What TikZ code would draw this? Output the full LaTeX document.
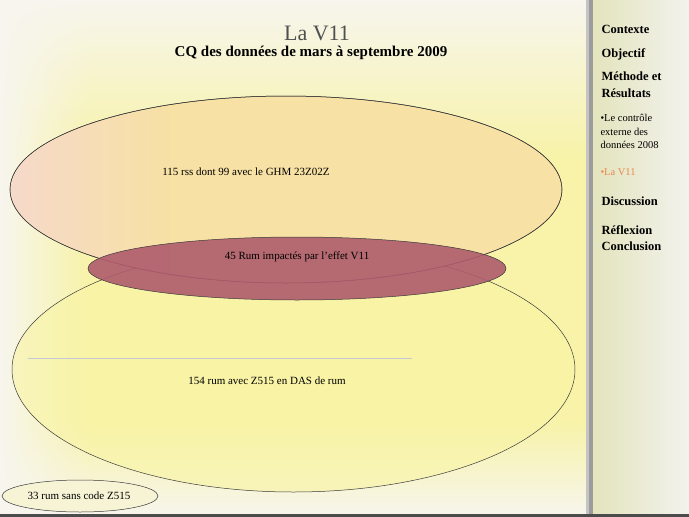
\documentclass[tikz,border=0pt]{standalone}
\usepackage{fontspec}
\setmainfont{Liberation Serif}
\usetikzlibrary{shapes.geometric,fadings}
\definecolor{bgyellow}{HTML}{F8F3A8}
\definecolor{bgwhite}{HTML}{F7F6EE}
\definecolor{sideL}{HTML}{E4E4BE}
\definecolor{sideR}{HTML}{F2F2EE}
\definecolor{barA}{HTML}{C4C4C4}
\definecolor{barB}{HTML}{9C9C9C}
\definecolor{peachL}{HTML}{F6DACB}
\definecolor{peachR}{HTML}{F8E1A4}
\definecolor{lowfill}{HTML}{F9F4A4}
\definecolor{plum}{HTML}{AE5C6C}
\definecolor{smallfill}{HTML}{F7F4D6}
\definecolor{titlegray}{HTML}{505050}
\definecolor{navorange}{HTML}{E8894A}
\definecolor{rulecol}{HTML}{C4C8D4}
\definecolor{edgecol}{HTML}{3A3A3A}
\tikzfading[name=fadeR, left color=transparent!0, right color=transparent!100]
\tikzfading[name=fadeD, top color=transparent!0, bottom color=transparent!100]
\tikzfading[name=fadeU, bottom color=transparent!0, top color=transparent!100]
\tikzset{
  venn/.style={ellipse, draw=edgecol, line width=0.5pt, inner sep=0pt},
  vlabel/.style={font=\fontsize{11}{13}\selectfont, text=black},
  navhead/.style={anchor=west, align=left, font=\bfseries\fontsize{12.5}{16.5}\selectfont, text=black},
  navsub/.style={anchor=west, align=left, font=\fontsize{10.5}{13.5}\selectfont, text=black},
}
\begin{document}
\begin{tikzpicture}[x=1pt,y=-1pt]
\useasboundingbox (0,0) rectangle (689,517);
% main background
\fill[bgyellow] (0,0) rectangle (587,517);
\fill[bgwhite, path fading=fadeD] (0,0) rectangle (587,160);
\fill[bgwhite, path fading=fadeU] (0,420) rectangle (587,517);
\fill[bgwhite, path fading=fadeR] (0,0) rectangle (90,517);
% sidebar
\shade[left color=sideL, right color=sideR] (593,0) rectangle (689,517);
\fill[barA] (586,0) rectangle (589,517);
\fill[barB] (589,0) rectangle (593,517);
\fill[black!70] (0,514) rectangle (689,517);
% titles
\node[font=\fontsize{22}{26}\selectfont, text=titlegray] (title) at (317,33) {La V11};
\node[font=\bfseries\fontsize{15}{18}\selectfont, text=black] (subtitle) at (311,53) {CQ des données de mars à septembre 2009};
% ellipses
\node[venn, fill=lowfill, fill opacity=0.6, draw opacity=1, minimum width=563, minimum height=245] (low) at (293.5,369.5) {};
\node[venn, fill=peachR, minimum width=552, minimum height=187] (top) at (286,189.5) {};
\begin{scope}
  \clip (286,189.5) ellipse [x radius=275.5, y radius=93];
  \fill[peachL, path fading=fadeR] (10,96) rectangle (170,283);
\end{scope}
\draw[edgecol, line width=0.5pt] (286,189.5) ellipse [x radius=276, y radius=93.5];
\node[venn, fill=plum, fill opacity=0.9, draw opacity=1, minimum width=418, minimum height=63] (mid) at (297,268.5) {};
\node[venn, fill=smallfill, minimum width=156, minimum height=32] (small) at (80,496) {};
% labels
\node[vlabel] (toptext) at (246,172) {115 rss dont 99 avec le GHM 23Z02Z};
\node[vlabel] (midtext) at (297,257) {45 Rum impactés par l’effet V11};
\node[vlabel] (lowtext) at (267,381) {154 rum avec Z515 en DAS de rum};
\node[vlabel] (smalltext) at (79,496) {33 rum sans code Z515};
% thin rule
\coordinate (ruleA) at (28,358);
\coordinate (ruleB) at (412,358);
\draw[rulecol, line width=0.6pt] (ruleA) -- (ruleB);
% navigation
\node[navhead] (nav1) at (598,29) {Contexte};
\node[navhead] (nav2) at (598,54) {Objectif};
\node[navhead] (nav3) at (598,84.5) {Méthode et\\Résultats};
\node[navsub] (nav4) at (597,131.5) {\textbullet Le contrôle\\externe des\\données 2008};
\node[navsub, text=navorange] (nav5) at (597,172) {\textbullet La V11};
\node[navhead] (nav6) at (598,201) {Discussion};
\node[navhead] (nav7) at (598,238) {Réflexion\\Conclusion};
\end{tikzpicture}
\end{document}
